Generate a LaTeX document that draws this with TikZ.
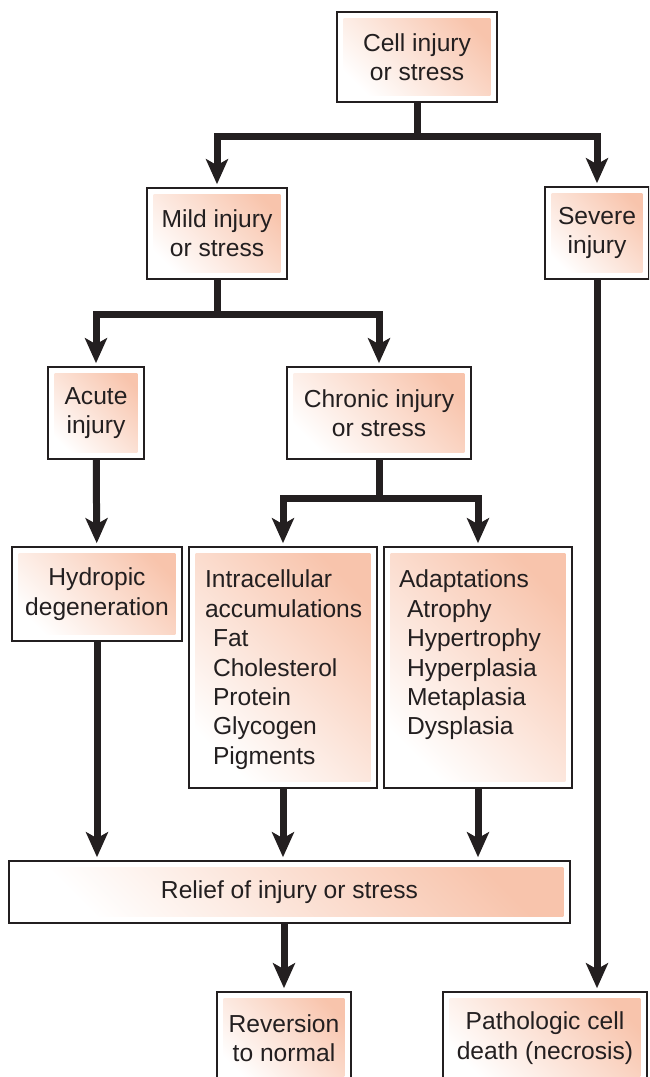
\documentclass[tikz,border=0pt]{standalone}
\usepackage{fontspec}
\setmainfont{Liberation Sans}
\usepackage{xcolor}
\usepackage{tikz}
\usetikzlibrary{arrows.meta}

\definecolor{ink}{RGB}{35,31,32}
\definecolor{salmon}{RGB}{248,196,172}

\begin{document}
\begin{tikzpicture}[x=0.5pt, y=-0.5pt,
    box/.style={draw=ink, line width=0.8pt, fill=white, inner sep=0pt,
        align=center, text=ink, font=\fontsize{12.3}{14.7}\selectfont,
        path picture={\shade[top color=salmon, bottom color=white, shading angle=-45]
            ([shift={(3.3pt,-3.3pt)}]path picture bounding box.north west) rectangle
            ([shift={(-3.3pt,3.3pt)}]path picture bounding box.south east);}},
    flow/.style={draw=ink, line width=3.5pt,
        -{Stealth[length=12.5pt, width=11pt, inset=3pt]}, shorten >=1.5pt}]

    % =================================================================
    % 1. KHUNG TRANG
    % =================================================================
    \useasboundingbox (0,0) rectangle (649,1077);
    \clip (0,0) rectangle (649,1077);

    % =================================================================
    % 2. CAC HOP
    % =================================================================
    \node[box, minimum width=80pt, minimum height=45pt] (cell) at (417,57) {Cell injury\\or stress};
    \node[box, minimum width=70pt, minimum height=45.5pt] (mild) at (217,233.5) {Mild injury\\or stress};
    \node[box, minimum width=52pt, minimum height=46pt] (severe) at (597,233) {Severe\\injury};
    \node[box, minimum width=48pt, minimum height=46pt] (acute) at (96,413) {Acute\\injury};
    \node[box, minimum width=92pt, minimum height=46pt] (chronic) at (379,413) {Chronic injury\\or stress};
    \node[box, minimum width=85pt, minimum height=47pt] (hydro) at (97,594) {Hydropic\\degeneration};

    % hop danh sach: chu canh tren
    \node[box, minimum width=94pt, minimum height=120.5pt] (intra) at (283,667.5)
        {\parbox[c][120.5pt][t]{78pt}{\raggedright\vspace*{11.5pt}%
        Intracellular\\accumulations\\\hspace*{4pt}Fat\\\hspace*{4pt}Cholesterol\\%
        \hspace*{4pt}Protein\\\hspace*{4pt}Glycogen\\\hspace*{4pt}Pigments}};
    \node[box, minimum width=94pt, minimum height=120.5pt] (adapt) at (478,667.5)
        {\parbox[c][120.5pt][t]{79pt}{\raggedright\vspace*{11.5pt}%
        Adaptations\\\hspace*{4pt}Atrophy\\\hspace*{4pt}Hypertrophy\\%
        \hspace*{4pt}Hyperplasia\\\hspace*{4pt}Metaplasia\\\hspace*{4pt}Dysplasia}};

    \node[box, minimum width=280.5pt, minimum height=31pt] (relief) at (289.5,892) {Relief of injury or stress};
    \node[box, minimum width=67pt, minimum height=46pt] (revers) at (284,1038) {Reversion\\to normal};
    \node[box, minimum width=102pt, minimum height=46pt] (patho) at (545,1038) {Pathologic cell\\death (necrosis)};

    % =================================================================
    % 3. MUI TEN
    % =================================================================
    \draw[flow] (cell.south) -- ++(0,34) -| (mild.north);
    \draw[flow] (cell.south) -- ++(0,34) -| (severe.north);

    \draw[flow] (mild.south) -- ++(0,35) -| (acute.north);
    \draw[flow] (mild.south) -- ++(0,35) -| (chronic.north);

    \draw[flow] (acute) -- (hydro);

    \draw[flow] (chronic.south) -- ++(0,39) -| (intra.north);
    \draw[flow] (chronic.south) -- ++(0,39) -| (adapt.north);

    \foreach \src in {hydro, intra, adapt}
        \draw[flow] (\src.south) -- (\src.south |- relief.north);

    \draw[flow] (relief.south -| revers.north) -- (revers.north);
    \draw[flow] (severe.south) -- (severe.south |- patho.north);

\end{tikzpicture}
\end{document}
